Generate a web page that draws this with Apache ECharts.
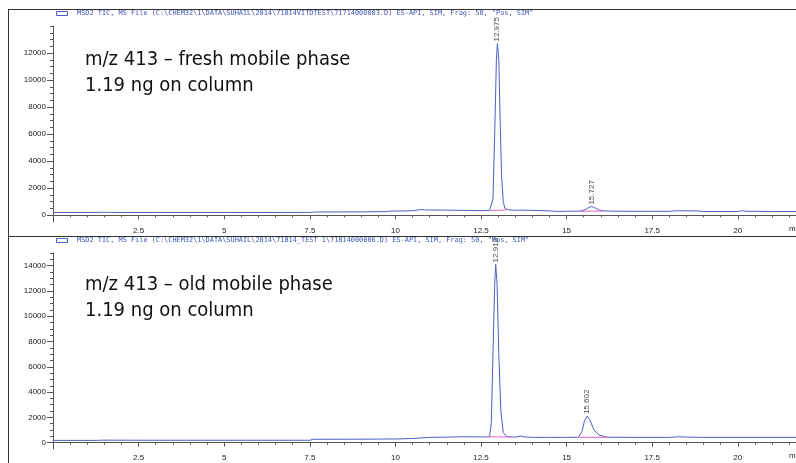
<!DOCTYPE html>
<html><head><meta charset="utf-8">
<script src="https://cdn.jsdelivr.net/npm/echarts@6/dist/echarts.min.js"></script>
<style>html,body{margin:0;padding:0;background:#fff}#c{width:796px;height:463px}</style>
</head><body><div id="c"></div>
<script>
// ---- data ----
const freshTimes  = [0, 1.25, 1.3, 1.4, 1.5, 3, 5, 7.5, 7.6, 7.7, 9, 9.7, 9.8, 10.5, 10.75, 10.85, 11, 11.5, 12, 12.5, 12.75, 12.8, 12.85, 12.9, 12.95, 12.98, 13.02, 13.06, 13.1, 13.15, 13.2, 13.3, 13.5, 13.7, 14, 14.5, 14.8, 15, 15.4, 15.55, 15.65, 15.73, 15.82, 15.95, 16.1, 16.4, 17, 17.5, 18, 18.2, 18.8, 19, 20, 20.1, 20.3, 21, 21.7];
const freshValues = [200, 200, 280, 220, 210, 200, 200, 210, 230, 240, 250, 270, 300, 330, 420, 400, 390, 380, 360, 340, 360, 400, 1200, 6000, 11500, 12700, 11500, 7000, 3000, 1000, 500, 400, 370, 380, 360, 320, 280, 300, 300, 420, 580, 640, 560, 380, 320, 300, 290, 290, 290, 330, 320, 280, 280, 330, 290, 280, 280];
const oldTimes    = [0, 1.3, 1.35, 1.45, 3, 5, 7.5, 7.6, 8, 9.4, 9.45, 9.6, 10, 10.5, 11, 11.5, 12, 12.3, 12.6, 12.75, 12.8, 12.85, 12.9, 12.93, 12.97, 13.02, 13.08, 13.15, 13.25, 13.5, 13.65, 13.8, 14, 14.5, 15, 15.35, 15.45, 15.52, 15.6, 15.68, 15.8, 15.95, 16.2, 17, 18, 18.3, 18.5, 19, 21.7];
const oldValues   = [180, 180, 260, 200, 190, 190, 190, 270, 270, 280, 320, 290, 290, 330, 420, 440, 470, 460, 450, 470, 1500, 7000, 12500, 14100, 12500, 7000, 2500, 800, 480, 440, 520, 450, 420, 420, 420, 430, 900, 1700, 2100, 1800, 1000, 600, 430, 420, 420, 470, 440, 420, 420];
const freshBaselineA = [[12.78, 350], [13.25, 390]];
const freshBaselineB = [[15.38, 300], [16.08, 310]];
const oldBaselineA   = [[12.72, 460], [13.4, 450]];
const oldBaselineB   = [[15.38, 430], [16.2, 430]];
const freshPeakTimes  = [12.975, 15.727];
const freshPeakValues = [12700, 640];
const freshPeakLabels = ['12.975', '15.727'];
const oldPeakTimes    = [12.918, 15.602];
const oldPeakValues   = [14100, 2100];
const oldPeakLabels   = ['12.918', '15.602'];
const xTickLabels     = [2.5, 5, 7.5, 10, 12.5, 15, 17.5, 20];
const yTickLabelsFresh = [0, 2000, 4000, 6000, 8000, 10000, 12000];
const yTickLabelsOld   = [0, 2000, 4000, 6000, 8000, 10000, 12000, 14000];
const headerFresh = 'MSD2 TIC, MS File (C:\\CHEM32\\1\\DATA\\SUHAIL\\2014\\71814VITDTEST\\71714000003.D) ES-API, SIM, Frag: 50, "Pos, SIM"';
const headerOld   = 'MSD2 TIC, MS File (C:\\CHEM32\\1\\DATA\\SUHAIL\\2014\\71814_TEST 1\\71814000006.D) ES-API, SIM, Frag: 50, "Pos, SIM"';
const noteFresh = ['m/z 413 \u2013 fresh mobile phase', '1.19 ng on column'];
const noteOld   = ['m/z 413 \u2013 old mobile phase', '1.19 ng on column'];

// ---- helpers ----
const zip = (a, b) => a.map((t, i) => [t, b[i]]);
function range(a, b, s) { const r = []; for (let v = a; v <= b + 1e-9; v += s) r.push(+v.toFixed(3)); return r; }
const X_MAX = 21.7;
const LINE = '#4d5fc4', PINK = '#e064c0', AX = '#555';

function xAxes(gi) {
  return [
    { type: 'value', gridIndex: gi, min: 0, max: X_MAX, position: 'bottom',
      axisLine: { lineStyle: { color: AX, width: 1 } }, splitLine: { show: false },
      axisTick: { customValues: xTickLabels, length: 4, lineStyle: { color: AX } },
      axisLabel: { customValues: xTickLabels, fontSize: 8, color: '#222', fontFamily: 'Liberation Sans', margin: 5,
        formatter: v => String(v) } },
    { type: 'value', gridIndex: gi, min: 0, max: X_MAX, position: 'bottom',
      axisLine: { show: false }, splitLine: { show: false },
      axisTick: { customValues: range(0.5, 21.5, 0.5), length: 2, lineStyle: { color: AX } },
      axisLabel: { show: false } }
  ];
}
function yAxes(gi, max, labels) {
  return [
    { type: 'value', gridIndex: gi, min: -500, max: max, position: 'left',
      axisLine: { show: true, lineStyle: { color: AX, width: 1 } }, splitLine: { show: false },
      axisTick: { show: true, customValues: labels, length: 6, lineStyle: { color: AX } },
      axisLabel: { customValues: labels, fontSize: 8, color: '#222', fontFamily: 'Liberation Sans', margin: 7,
        formatter: v => String(v) } },
    { type: 'value', gridIndex: gi, min: -500, max: max, position: 'left',
      axisLine: { show: false }, splitLine: { show: false },
      axisTick: { show: true, customValues: range(0, max, 500), length: 3, lineStyle: { color: AX } },
      axisLabel: { show: false } }
  ];
}
function traceSeries(xi, yi, data) {
  return { type: 'line', xAxisIndex: xi, yAxisIndex: yi, data: data, showSymbol: false, symbol: 'none',
    lineStyle: { color: LINE, width: 1 }, silent: true, z: 3 };
}
function baseSeries(xi, yi, data) {
  return { type: 'line', xAxisIndex: xi, yAxisIndex: yi, data: data, showSymbol: false, symbol: 'none',
    lineStyle: { color: PINK, width: 1 }, silent: true, z: 4 };
}
function peakSeries(xi, yi, times, vals, labels) {
  return { type: 'scatter', xAxisIndex: xi, yAxisIndex: yi, symbolSize: 0, silent: true, z: 5,
    data: times.map((t, i) => ({ value: [t, vals[i]], label: { formatter: labels[i] } })),
    label: { show: true, position: 'top', rotate: 90, align: 'left', verticalAlign: 'middle', distance: 2,
      fontSize: 8, color: '#111', fontFamily: 'Liberation Sans' } };
}
const FRAME = '#333';
function headerGraphics(y, text) {
  return [
    { type: 'rect', shape: { x: 56.5, y: y - 2, width: 11, height: 4 }, style: { fill: 'none', stroke: LINE, lineWidth: 1 } },
    { type: 'text', x: 77, y: y, style: { text: text, fill: '#3f55b5', font: '6.9px "DejaVu Sans Mono"', verticalAlign: 'middle' } }
  ];
}
function noteGraphics(y, lines) {
  return lines.map((t, i) => ({ type: 'text', x: 85, y: y + i * 26,
    style: { text: t, fill: '#111', font: '20px "DejaVu Sans Condensed"', verticalAlign: 'middle' } }));
}

const chart = echarts.init(document.getElementById('c'), null, { renderer: 'canvas' });
chart.setOption({
  animation: false,
  backgroundColor: '#fff',
  grid: [
    { left: 53, right: 0, top: 26, bottom: 241 },
    { left: 53, right: 0, top: 253, bottom: 14 }
  ],
  xAxis: [...xAxes(0), ...xAxes(1)],
  yAxis: [...yAxes(0, 14000, yTickLabelsFresh), ...yAxes(1, 15000, yTickLabelsOld)],
  series: [
    traceSeries(0, 0, zip(freshTimes, freshValues)),
    baseSeries(0, 0, freshBaselineA), baseSeries(0, 0, freshBaselineB),
    peakSeries(0, 0, freshPeakTimes, freshPeakValues, freshPeakLabels),
    traceSeries(2, 2, zip(oldTimes, oldValues)),
    baseSeries(2, 2, oldBaselineA), baseSeries(2, 2, oldBaselineB),
    peakSeries(2, 2, oldPeakTimes, oldPeakValues, oldPeakLabels)
  ],
  graphic: [
    { type: 'line', shape: { x1: 8, y1: 9.5, x2: 796, y2: 9.5 }, style: { stroke: FRAME, lineWidth: 1 } },
    { type: 'line', shape: { x1: 8.5, y1: 9, x2: 8.5, y2: 463 }, style: { stroke: FRAME, lineWidth: 1 } },
    { type: 'line', shape: { x1: 8, y1: 236.5, x2: 796, y2: 236.5 }, style: { stroke: FRAME, lineWidth: 1 } },
    ...headerGraphics(13.5, headerFresh),
    ...headerGraphics(240.5, headerOld),
    ...noteGraphics(60, noteFresh),
    ...noteGraphics(285, noteOld),
    { type: 'text', x: 789, y: 229, style: { text: 'm', fill: '#222', font: '8px "Liberation Sans"', verticalAlign: 'middle' } },
    { type: 'text', x: 789, y: 456, style: { text: 'm', fill: '#222', font: '8px "Liberation Sans"', verticalAlign: 'middle' } }
  ]
});
</script></body></html>
